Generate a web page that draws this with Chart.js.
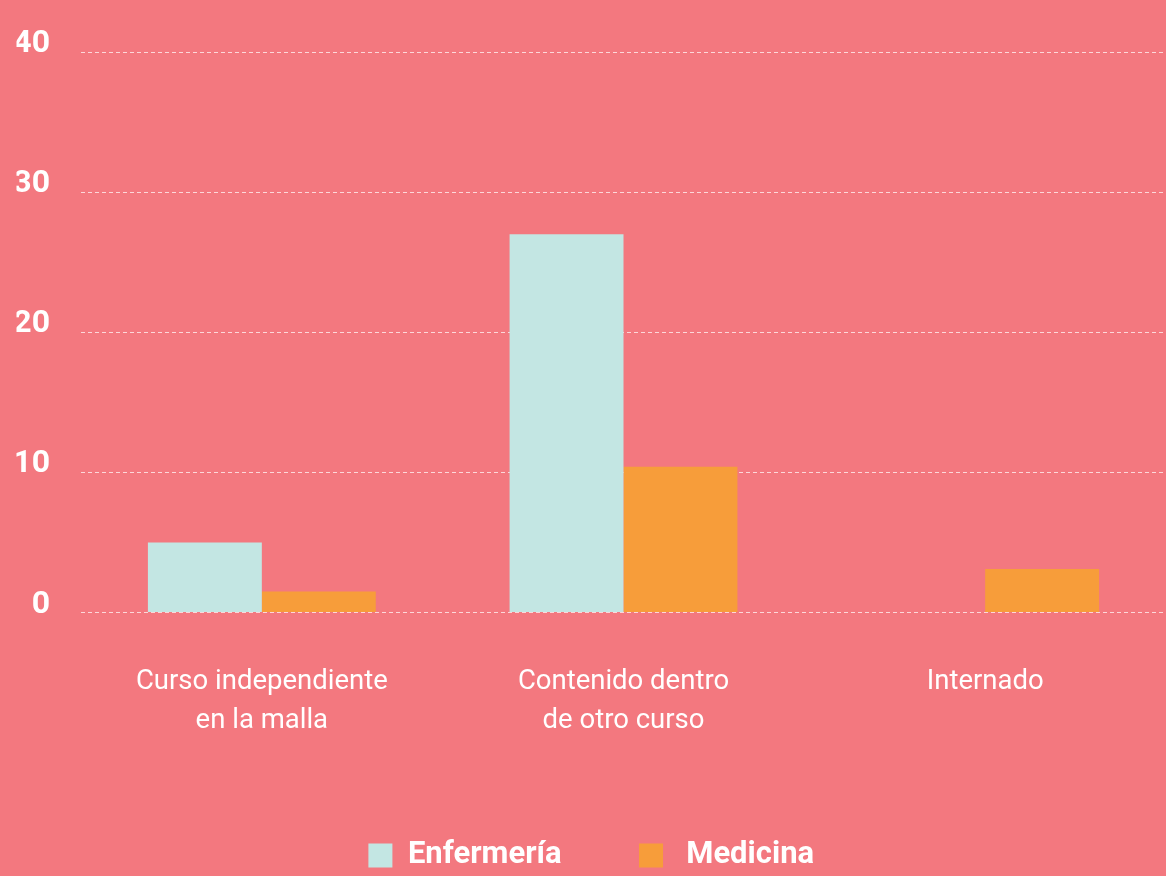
<!DOCTYPE html>
<html>
<head>
<meta charset="utf-8">
<script src="https://cdn.jsdelivr.net/npm/chart.js@4.4.0/dist/chart.umd.min.js"></script>
<style>
  html, body { margin: 0; padding: 0; background: #F3787F; overflow: hidden; }
  #wrap { width: 1166px; height: 876px; position: relative; }
</style>
</head>
<body>
<div id="wrap"><canvas id="c" width="1166" height="876"></canvas></div>
<script>
const categories = [["Curso independiente", "en la malla"], ["Contenido dentro", "de otro curso"], ["Internado"]];
const seriesNames = ["Enfermería", "Medicina"];
const enfermeria = [5, 27, 0];
const medicina = [1.5, 10.4, 3.1];
const yTicks = [0, 10, 20, 30, 40];

const WHITE = '#FFFFFF';
new Chart(document.getElementById('c'), {
  type: 'bar',
  data: {
    labels: categories,
    datasets: [
      { label: seriesNames[0], data: enfermeria, backgroundColor: '#C3E6E3', borderWidth: 0 },
      { label: seriesNames[1], data: medicina, backgroundColor: '#F79D3A', borderWidth: 0 }
    ]
  },
  options: {
    responsive: false,
    animation: false,
    layout: { padding: { left: 16.5, right: 0, top: 52, bottom: -5 } },
    datasets: { bar: { categoryPercentage: 0.63, barPercentage: 1.0 } },
    plugins: {
      legend: {
        position: 'bottom',
        labels: {
          color: WHITE,
          boxWidth: 24,
          boxHeight: 24,
          padding: 77.5,
          font: { family: 'Roboto', weight: 'bold', size: 31 },
          generateLabels(chart) {
            const items = Chart.defaults.plugins.legend.labels.generateLabels(chart);
            items.forEach((it, i) => { if (i > 0) it.text = ' ' + it.text; });
            return items;
          }
        }
      },
      tooltip: { enabled: false }
    },
    scales: {
      x: {
        grid: { display: false, drawTicks: false },
        border: { display: false },
        ticks: {
          color: WHITE,
          padding: 50.5,
          maxRotation: 0,
          autoSkip: false,
          font: { family: 'Roboto', size: 27.5, lineHeight: '39px' }
        },
        afterFit(scale) { scale.height = 150; }
      },
      y: {
        min: 0,
        max: 40,
        afterBuildTicks(scale) { scale.ticks = yTicks.map(v => ({ value: v })); },
        afterFit(scale) { scale.width = 64.5; },
        grid: {
          color: 'rgba(255,255,255,0.7)',
          lineWidth: 1,
          drawTicks: false
        },
        border: { display: false, dash: [4, 3] },
        ticks: {
          color: WHITE,
          padding: 31,
          labelOffset: -8,
          font: { family: 'Roboto', weight: 'bold', size: 32 }
        }
      }
    }
  }
});
</script>
</body>
</html>
